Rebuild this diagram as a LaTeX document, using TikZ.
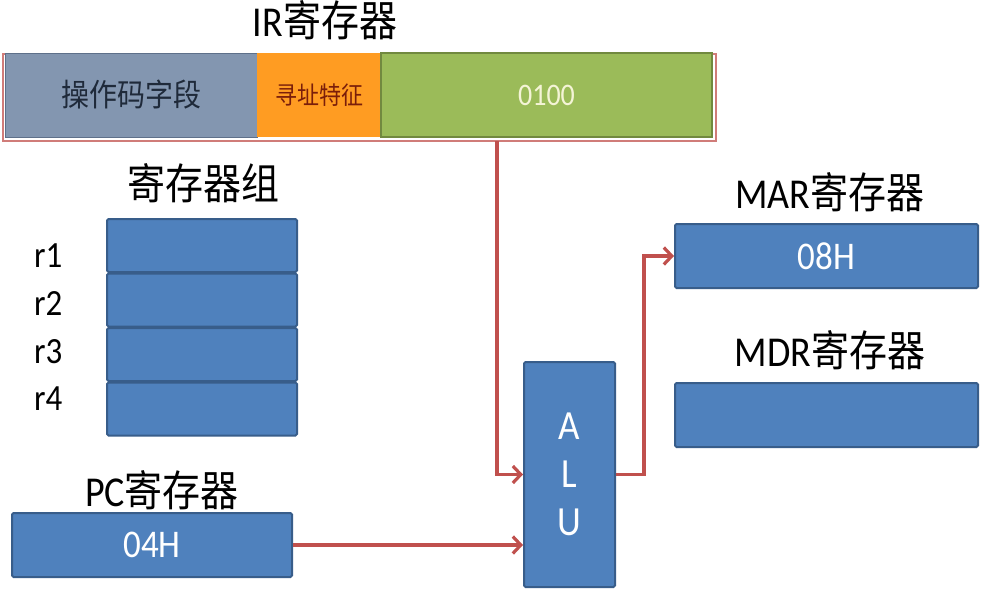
\documentclass[tikz,border=0pt]{standalone}
\usepackage{fontspec}
\setmainfont{Carlito}
\newfontfamily\cjk{Noto Sans CJK SC}
\usetikzlibrary{arrows.meta}
\definecolor{blu}{HTML}{4F81BD}
\definecolor{bluD}{HTML}{385D8A}
\definecolor{opgray}{HTML}{8396B0}
\definecolor{opgrayD}{HTML}{5E708A}
\definecolor{addrorg}{HTML}{FF9C22}
\definecolor{grn}{HTML}{9BBB59}
\definecolor{grnD}{HTML}{71893F}
\definecolor{arred}{HTML}{C0504D}
\definecolor{optext}{HTML}{1F2A3A}
\definecolor{addrtext}{HTML}{7A1E0A}
\definecolor{cream}{HTML}{F4F4D6}
\newcommand{\st}[1]{\scalebox{1}[1.12]{#1}}
\begin{document}
\begin{tikzpicture}[x=1pt,y=-1pt,
  title/.style={font=\fontsize{38}{44}\selectfont, text=black, inner sep=0pt},
  reg/.style={draw=bluD, fill=blu, line width=2pt, rounded corners=1.5pt, inner sep=0pt,
    text=white, font=\fontsize{35}{40}\selectfont},
  rlabel/.style={font=\fontsize{33}{38}\selectfont, anchor=base west, inner sep=0pt},
  arr/.style={draw=arred, line width=3.6pt, -{Straight Barb[length=8pt,width=17pt,line width=3.2pt]}},
  field/.style={inner sep=0pt, minimum height=84pt}
]
\useasboundingbox[fill=white] (0,0) rectangle (990,600);

% IR register
\node[title] (irt) at (325,20) {\st{IR{\cjk 寄存器}}};
\draw[arred!75, line width=1.3pt] (3,54) rectangle (716,141);
\node[field, fill=opgray, draw=opgrayD, line width=1pt, minimum width=252pt,
  font=\cjk\fontsize{28}{32}\selectfont, text=optext] (op) at (131,95) {\st{操作码字段}};
\node[field, fill=addrorg, minimum width=124pt,
  font=\cjk\fontsize{22}{26}\selectfont, text=addrtext] (addr) at (319,95) {\st{寻址特征}};
\node[field, fill=grn, draw=grnD, line width=1.6pt, minimum width=331pt,
  font=\fontsize{28}{32}\selectfont, text=cream] (imm) at (546.5,95) {\st{0100}};

% register group
\node[title] (rgt) at (203,183) {\st{\cjk 寄存器组}};
\node[reg, minimum width=190pt, minimum height=53pt] (r1) at (202,245.5) {};
\node[reg, minimum width=190pt, minimum height=53pt] (r2) at (202,300) {};
\node[reg, minimum width=190pt, minimum height=53pt] (r3) at (202,354.5) {};
\node[reg, minimum width=190pt, minimum height=53pt] (r4) at (202,409) {};
\node[rlabel] (l1) at (34,267) {\st{r1}};
\node[rlabel] (l2) at (34,315) {\st{r2}};
\node[rlabel] (l3) at (34,363) {\st{r3}};
\node[rlabel] (l4) at (34,410) {\st{r4}};

% PC
\node[title] (pct) at (162,490) {\st{PC{\cjk 寄存器}}};
\node[reg, minimum width=280pt, minimum height=64pt] (pc) at (152,545) {\st{04H}};

% ALU
\node[reg, minimum width=91pt, minimum height=225pt, align=center,
  font=\fontsize{37}{48}\selectfont] (alu) at (569.5,474.5) {\st{A}\\\st{L}\\\st{U}};

% MAR / MDR
\node[title] (mart) at (830,192) {\st{MAR{\cjk 寄存器}}};
\node[reg, minimum width=303pt, minimum height=64pt] (mar) at (826.5,256) {\st{08H}};
\node[title] (mdrt) at (830,350) {\st{MDR{\cjk 寄存器}}};
\node[reg, minimum width=303pt, minimum height=64pt] (mdr) at (826.5,415) {};

% connectors
\coordinate (irout) at (497,141);
\draw[arr] (irout) |- (alu.west);
\draw[arr] (pc.east) -- (alu.west |- pc.east);
\draw[arr] (alu.east) -- ++(28,0) |- (mar.west);
\end{tikzpicture}
\end{document}
